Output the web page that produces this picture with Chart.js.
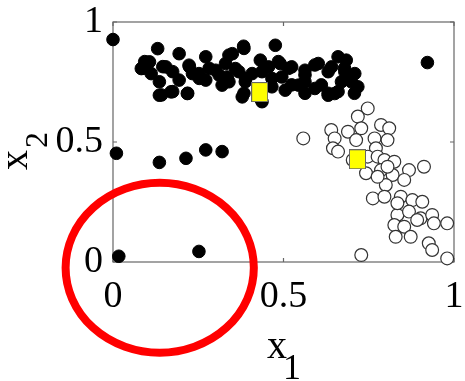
<!DOCTYPE html>
<html>
<head>
<meta charset="utf-8">
<script src="https://cdn.jsdelivr.net/npm/chart.js@4/dist/chart.umd.min.js"></script>
<style>
  html, body { margin: 0; padding: 0; background: #fff; }
  #wrap { width: 465px; height: 381px; }
</style>
</head>
<body>
<div id="wrap"><canvas id="scatterChart" width="465" height="381"></canvas></div>
<script>
// class 1 (filled dots) as [x1, x2]
const classOne = [
    [0.0, 0.927], [0.01, 0.453], [0.136, 0.415], [0.214, 0.432], [0.272, 0.467],
    [0.32, 0.46], [0.017, 0.024], [0.252, 0.044], [0.922, 0.831],
    [0.131, 0.889], [0.194, 0.868], [0.272, 0.855], [0.35, 0.868], [0.383, 0.899],
    [0.476, 0.903], [0.432, 0.841], [0.66, 0.855], [0.684, 0.841],
    [0.083, 0.806], [0.107, 0.834], [0.155, 0.813], [0.223, 0.82], [0.252, 0.785],
    [0.301, 0.799], [0.33, 0.827], [0.359, 0.806], [0.408, 0.785], [0.456, 0.813],
    [0.49, 0.827], [0.524, 0.813], [0.563, 0.799], [0.602, 0.827], [0.641, 0.813],
    [0.68, 0.792], [0.709, 0.785], [0.136, 0.751], [0.136, 0.695], [0.17, 0.709],
    [0.218, 0.702], [0.194, 0.758], [0.272, 0.758], [0.32, 0.737], [0.379, 0.688],
    [0.437, 0.668], [0.466, 0.73], [0.505, 0.716], [0.544, 0.737], [0.592, 0.723],
    [0.631, 0.695], [0.65, 0.702], [0.718, 0.73], [0.335, 0.771], [0.495, 0.771],
    [0.563, 0.751], [0.388, 0.751], [0.233, 0.785], [0.67, 0.751], [0.112, 0.785],
    [0.093, 0.835], [0.088, 0.807], [0.146, 0.814], [0.175, 0.793], [0.224, 0.814],
    [0.253, 0.765], [0.282, 0.807], [0.142, 0.696], [0.175, 0.71], [0.219, 0.703],
    [0.311, 0.779], [0.34, 0.862], [0.34, 0.751], [0.369, 0.793], [0.384, 0.89],
    [0.485, 0.835], [0.389, 0.765], [0.384, 0.703], [0.437, 0.793], [0.466, 0.765],
    [0.432, 0.682], [0.515, 0.807], [0.524, 0.738], [0.563, 0.779], [0.592, 0.821],
    [0.611, 0.738], [0.631, 0.793], [0.679, 0.807], [0.66, 0.71], [0.699, 0.751],
    [0.631, 0.703], [0.563, 0.703], [0.708, 0.703]
];

// class 2 (open circles)
const classTwo = [
    [0.747, 0.64], [0.718, 0.606], [0.64, 0.55], [0.689, 0.543], [0.728, 0.557],
    [0.786, 0.571], [0.81, 0.557], [0.558, 0.515], [0.65, 0.515], [0.645, 0.474],
    [0.66, 0.46], [0.713, 0.508], [0.767, 0.515], [0.805, 0.508], [0.771, 0.474],
    [0.703, 0.425], [0.747, 0.439], [0.776, 0.439], [0.796, 0.425], [0.825, 0.418],
    [0.912, 0.397], [0.742, 0.37], [0.786, 0.383], [0.82, 0.3625], [0.868, 0.383],
    [0.854, 0.342], [0.8, 0.321], [0.762, 0.265], [0.796, 0.272], [0.844, 0.272],
    [0.878, 0.258], [0.907, 0.251], [0.834, 0.196], [0.868, 0.21], [0.902, 0.182],
    [0.936, 0.196], [0.941, 0.161], [0.98, 0.161], [0.825, 0.154], [0.854, 0.147],
    [0.873, 0.105], [0.829, 0.105], [0.926, 0.078], [0.936, 0.05], [0.98, 0.015],
    [0.728, 0.029], [0.892, 0.175], [0.805, 0.397], [0.776, 0.355], [0.834, 0.245]
];

// cluster centres (yellow squares)
const centres = [[0.43, 0.708], [0.717, 0.428]];

const tickValues = [0, 0.5, 1];
const tickLabels = ['0', '0.5', '1'];

// red ellipse drawn over the lower-left corner, in data units
const ringCentre = [0.137, -0.024];
const ringRadius = [0.276, 0.354];

const serif = '"Liberation Serif", "DejaVu Serif", serif';

function toPoints(list) {
    return list.map(p => ({ x: p[0], y: p[1] }));
}

// yellow square marker, a bit taller than wide like the original
const squareMark = document.createElement('canvas');
squareMark.width = 17;
squareMark.height = 20;
(function () {
    const c = squareMark.getContext('2d');
    c.fillStyle = '#ffff00';
    c.fillRect(0.5, 0.5, 16, 19);
    c.strokeStyle = '#666';
    c.lineWidth = 1;
    c.strokeRect(0.5, 0.5, 16, 19);
})();

const framePlugin = {
    id: 'frame',
    beforeDatasetsDraw(chart) {
        const { ctx, chartArea: a, scales } = chart;
        ctx.save();
        ctx.strokeStyle = '#666';
        ctx.lineWidth = 1.2;
        ctx.strokeRect(a.left, a.top, a.right - a.left, a.bottom - a.top);
        // small ticks pointing inwards on all four sides
        tickValues.forEach(v => {
            const px = scales.x.getPixelForValue(v);
            const py = scales.y.getPixelForValue(v);
            ctx.beginPath();
            ctx.moveTo(px, a.bottom); ctx.lineTo(px, a.bottom - 4);
            ctx.moveTo(px, a.top); ctx.lineTo(px, a.top + 4);
            ctx.moveTo(a.left, py); ctx.lineTo(a.left + 4, py);
            ctx.moveTo(a.right, py); ctx.lineTo(a.right - 4, py);
            ctx.stroke();
        });
        ctx.restore();
    },
    afterDraw(chart) {
        const { ctx, scales } = chart;
        ctx.save();
        ctx.fillStyle = '#000';
        ctx.textBaseline = 'alphabetic';

        // x1 under the axis
        ctx.font = '40px ' + serif;
        ctx.fillText('x', 267, 358);
        ctx.font = '36px ' + serif;
        ctx.fillText('1', 283, 379);

        // x2 on the left, turned
        ctx.translate(27, 170);
        ctx.rotate(-Math.PI / 2);
        ctx.font = '40px ' + serif;
        ctx.fillText('x', 0, 0);
        ctx.font = '32px ' + serif;
        ctx.fillText('2', 22, 20);
        ctx.restore();

        // the red ring
        const cx = scales.x.getPixelForValue(ringCentre[0]);
        const cy = scales.y.getPixelForValue(ringCentre[1]);
        const rx = Math.abs(scales.x.getPixelForValue(ringCentre[0] + ringRadius[0]) - cx);
        const ry = Math.abs(scales.y.getPixelForValue(ringCentre[1] + ringRadius[1]) - cy);
        ctx.save();
        ctx.strokeStyle = '#ff0000';
        ctx.lineWidth = 8;
        ctx.beginPath();
        ctx.ellipse(cx, cy, rx, ry, 0, 0, Math.PI * 2);
        ctx.stroke();
        ctx.restore();
    }
};

const ctx = document.getElementById('scatterChart').getContext('2d');
new Chart(ctx, {
    type: 'scatter',
    data: {
        datasets: [
            {
                label: 'centres',
                data: toPoints(centres),
                pointStyle: squareMark,
                pointRadius: 10,
                clip: false
            },
            {
                label: 'class 1',
                data: toPoints(classOne),
                backgroundColor: '#000',
                borderColor: '#000',
                borderWidth: 1,
                pointRadius: 6.3,
                clip: false
            },
            {
                label: 'class 2',
                data: toPoints(classTwo),
                backgroundColor: '#fff',
                borderColor: '#333',
                borderWidth: 1.2,
                pointRadius: 6.4,
                clip: false
            }
        ]
    },
    options: {
        responsive: false,
        animation: false,
        events: [],
        layout: { padding: { top: 22, right: 8, left: 0, bottom: 0 } },
        plugins: {
            legend: { display: false },
            tooltip: { enabled: false }
        },
        scales: {
            x: {
                type: 'linear',
                min: 0,
                max: 1,
                afterBuildTicks: s => { s.ticks = tickValues.map(v => ({ value: v })); },
                afterFit: s => {
                    s.height = 119;
                    s.paddingLeft = 0;
                    s.paddingRight = 0;
                },
                grid: { display: false, drawTicks: false },
                border: { display: false },
                ticks: {
                    padding: 12,
                    color: '#000',
                    font: { family: serif, size: 38 },
                    maxRotation: 0,
                    callback: (v) => tickLabels[tickValues.indexOf(v)]
                }
            },
            y: {
                type: 'linear',
                min: 0,
                max: 1,
                afterBuildTicks: s => { s.ticks = tickValues.map(v => ({ value: v })); },
                afterFit: s => {
                    s.width = 113;
                    s.paddingTop = 0;
                    s.paddingBottom = 0;
                },
                grid: { display: false, drawTicks: false },
                border: { display: false },
                ticks: {
                    padding: 10,
                    color: '#000',
                    font: { family: serif, size: 38 },
                    callback: (v) => tickLabels[tickValues.indexOf(v)]
                }
            }
        }
    },
    plugins: [framePlugin]
});
</script>
</body>
</html>
